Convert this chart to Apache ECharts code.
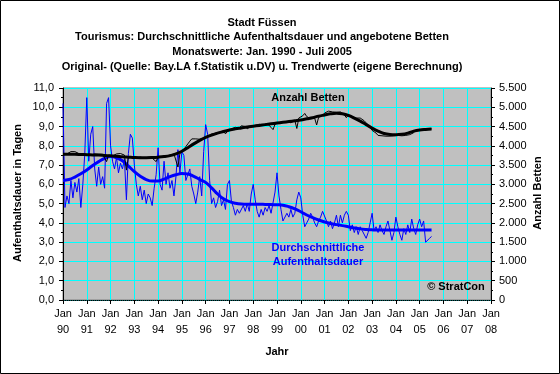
<!DOCTYPE html>
<html><head><meta charset="utf-8">
<script src="https://cdn.jsdelivr.net/npm/echarts/dist/echarts.min.js"></script>
<style>html,body{margin:0;padding:0;background:#fff}#c{width:560px;height:374px}</style>
</head><body><div id="c"></div>
<script>
// ---- data ----
const startYear = 1990;
const endYearAxis = 2008;
const titleLines = [
  'Stadt Füssen',
  'Tourismus: Durchschnittliche Aufenthaltsdauer und angebotene Betten',
  'Monatswerte: Jan. 1990 - Juli 2005',
  'Original- (Quelle: Bay.LA f.Statistik u.DV) u. Trendwerte (eigene Berechnung)'
];
// monthly, Jan 1990 .. Jul 2005 (average length of stay, days)
const stayOriginal = [
  10.2, 4.8, 5.4, 5.0, 6.2, 5.3, 6.1, 5.6, 6.3, 4.8, 6.0, 7.6,
  10.5, 7.2, 8.6, 9.0, 6.8, 5.9, 6.9, 6.0, 6.4, 5.8, 10.2, 10.5,
  8.0, 7.2, 6.8, 7.4, 6.6, 7.1, 6.8, 7.3, 5.2, 7.6, 8.6, 8.4,
  7.0, 6.0, 5.4, 5.9, 5.2, 5.7, 5.0, 5.5, 5.3, 4.9, 5.8, 6.5,
  7.9, 6.0, 5.7, 7.2, 6.0, 6.6, 5.8, 6.2, 5.4, 6.4, 7.8, 6.6,
  7.7, 7.5, 6.2, 6.1, 6.8, 5.9, 5.5, 5.0, 5.6, 6.4, 5.4, 7.7,
  9.1, 8.6, 6.2, 5.0, 5.3, 4.8, 5.1, 5.7, 4.9, 5.2, 4.7, 6.0,
  6.2, 5.1, 4.8, 4.4, 4.7, 4.5, 4.4, 4.9, 4.6, 5.0, 4.6, 5.5,
  6.0, 5.2, 4.6, 4.3, 4.7, 4.4, 4.8, 4.6, 4.9, 4.5, 4.4, 5.6,
  6.6, 5.4, 4.7, 4.1, 4.0, 4.5, 4.3, 4.7, 4.3, 4.5, 5.2, 5.6,
  5.3, 4.4, 3.8, 4.0, 4.2, 4.5, 4.3, 4.0, 3.8, 4.1, 4.3, 4.6,
  4.7, 4.1, 3.8, 4.1, 3.7, 4.0, 4.4, 3.8, 4.4, 4.0, 4.4, 4.6,
  4.4, 3.6, 3.9, 3.5, 3.8, 3.4, 3.8, 3.6, 3.7, 3.2, 3.5, 4.0,
  4.5, 3.6, 3.8, 3.5, 3.9, 3.6, 3.4, 3.8, 4.1, 3.6, 3.1, 3.5,
  4.3, 3.8, 3.4, 3.1, 3.7, 3.4, 3.9, 3.5, 4.2, 3.7, 3.4, 3.9,
  4.2, 3.8, 4.1, 3.0, 3.1, 3.2, 3.3
];
// monthly, Jan 1990 .. Jul 2005 (beds offered)
const bedsOriginal = [
  3760, 3770, 3790, 3830, 3850, 3850, 3850, 3840, 3800, 3780, 3790, 3770,
  3780, 3770, 3760, 3780, 3790, 3800, 3780, 3770, 3780, 3760, 3590, 3760,
  3750, 3740, 3760, 3790, 3800, 3800, 3790, 3760, 3370, 3720, 3700, 3700,
  3690, 3680, 3700, 3710, 3690, 3680, 3690, 3700, 3690, 3680, 3700, 3590,
  3710, 3700, 3720, 3720, 3730, 3740, 3760, 3780, 3790, 3800, 3450, 3800,
  3840, 3900, 3980, 4050, 4120, 4180, 4200, 4180, 4150, 4170, 4160, 4200,
  4180, 4250, 4280, 4300, 4350, 4330, 4360, 4340, 4300, 4380, 4310, 4380,
  4420, 4440, 4460, 4480, 4470, 4460, 4520, 4480, 4500, 4440, 4490, 4520,
  4500, 4530, 4540, 4560, 4550, 4540, 4560, 4580, 4570, 4480, 4420, 4560,
  4590, 4600, 4620, 4630, 4610, 4620, 4640, 4600, 4640, 4660, 4450, 4720,
  4700, 4780, 4840, 4760, 4720, 4700, 4710, 4720, 4540, 4740, 4760, 4780,
  4850, 4890, 4900, 4900, 4880, 4870, 4870, 4860, 4880, 4850, 4800, 4730,
  4800, 4790, 4760, 4740, 4720, 4760, 4720, 4700, 4650, 4600, 4540, 4480,
  4400, 4380, 4330, 4270, 4250, 4260, 4240, 4250, 4240, 4250, 4250, 4260,
  4260, 4270, 4250, 4260, 4280, 4270, 4300, 4290, 4310, 4340, 4400, 4430,
  4420, 4420, 4430, 4430, 4440, 4440, 4440
];
// trend values, quarterly (Jan, Apr, Jul, Oct), Jan 1990 .. Jul 2005
const trendStepMonths = 3;
const stayTrend = [
  6.20, 6.25, 6.38, 6.55, 6.75, 6.98, 7.18, 7.35, 7.44, 7.38, 7.22, 6.95,
  6.66, 6.42, 6.25, 6.17, 6.17, 6.27, 6.40, 6.50, 6.56, 6.54, 6.42, 6.25,
  6.10, 5.82, 5.50, 5.25, 5.10, 5.02, 4.98, 4.97, 4.97, 4.97, 4.96, 4.95,
  4.94, 4.92, 4.84, 4.73, 4.58, 4.41, 4.27, 4.15, 4.05, 3.97, 3.91, 3.86,
  3.80, 3.74, 3.69, 3.66, 3.64, 3.63, 3.63, 3.63, 3.63, 3.63, 3.63, 3.63,
  3.63, 3.63, 3.63
];
const bedsTrend = [
  3780, 3780, 3780, 3775, 3770, 3765, 3760, 3750, 3740, 3730, 3715, 3705,
  3695, 3690, 3690, 3695, 3705, 3720, 3745, 3790, 3860, 3950, 4050, 4140,
  4220, 4280, 4330, 4370, 4410, 4440, 4465, 4490, 4510, 4530, 4550, 4570,
  4590, 4610, 4630, 4650, 4670, 4700, 4730, 4770, 4800, 4830, 4845, 4830,
  4790, 4720, 4640, 4550, 4460, 4380, 4320, 4295, 4290, 4300, 4330, 4380,
  4410, 4425, 4435
];
const leftTicks = {min: 0, max: 11, interval: 1};
const rightTicks = {min: 0, max: 5500, interval: 500};

// ---- chart ----
const monthly = arr => arr.map((v, i) => [i, v]);
const stepped = (arr, step) => arr.map((v, i) => [i * step, v]);
const fontFam = '"Liberation Sans", Arial, sans-serif';
const fmtLeft = v => v.toFixed(1).replace('.', ',');
const fmtRight = v => v >= 1000 ? Math.floor(v / 1000) + '.' + String(v % 1000).padStart(3, '0') : String(v);

const chart = echarts.init(document.getElementById('c'), null, {renderer: 'canvas'});
const titleGraphics = titleLines.map((t, i) => ({
  type: 'text', left: null, x: 262, y: 22.7 + i * 14.7,
  style: {text: t, font: 'bold 11px ' + fontFam, fill: '#000', textAlign: 'center', textVerticalAlign: 'middle'}
}));
chart.setOption({
  animation: false,
  backgroundColor: '#fff',
  grid: {left: 63, right: 69, top: 88, bottom: 74, show: true, backgroundColor: '#c0c0c0', borderColor: '#808080', borderWidth: 1},
  xAxis: {
    type: 'value', min: 0, max: (endYearAxis - startYear) * 12, interval: 12,
    axisLine: {show: true, onZero: false, lineStyle: {color: '#000', type: 'dotted', width: 1}},
    axisTick: {show: true, length: 4, lineStyle: {color: '#000'}},
    axisLabel: {
      margin: 6, color: '#000', fontFamily: fontFam, fontSize: 11, lineHeight: 16,
      formatter: v => 'Jan\n' + String((startYear + v / 12) % 100).padStart(2, '0')
    },
    splitLine: {show: true, lineStyle: {color: '#00ffff', width: 1}}
  },
  yAxis: [
    {
      type: 'value', min: leftTicks.min, max: leftTicks.max, interval: leftTicks.interval,
      axisLine: {show: true, lineStyle: {color: '#000'}},
      axisTick: {show: true, length: 4, lineStyle: {color: '#000'}},
      minorTick: {show: true, splitNumber: 2, length: 2, lineStyle: {color: '#000'}},
      axisLabel: {margin: 9, color: '#000', fontFamily: fontFam, fontSize: 11, formatter: fmtLeft},
      splitLine: {show: true, lineStyle: {color: '#00ffff', width: 1}}
    },
    {
      type: 'value', position: 'right', min: rightTicks.min, max: rightTicks.max, interval: rightTicks.interval,
      axisLine: {show: true, lineStyle: {color: '#000'}},
      axisTick: {show: true, length: 4, lineStyle: {color: '#000'}},
      minorTick: {show: true, splitNumber: 2, length: 2, lineStyle: {color: '#000'}},
      axisLabel: {margin: 8, color: '#000', fontFamily: fontFam, fontSize: 11, formatter: fmtRight},
      splitLine: {show: false}
    }
  ],
  series: [
    {type: 'line', name: 'Aufenthaltsdauer Original', yAxisIndex: 0, data: monthly(stayOriginal), showSymbol: false, lineStyle: {color: '#0000ff', width: 1}, z: 2},
    {type: 'line', name: 'Aufenthaltsdauer Trend', yAxisIndex: 0, data: stepped(stayTrend, trendStepMonths), smooth: 0.4, showSymbol: false, lineStyle: {color: '#0000ff', width: 3}, z: 3},
    {type: 'line', name: 'Betten Original', yAxisIndex: 1, data: monthly(bedsOriginal), showSymbol: false, lineStyle: {color: '#000', width: 1}, z: 4},
    {type: 'line', name: 'Betten Trend', yAxisIndex: 1, data: stepped(bedsTrend, trendStepMonths), smooth: 0.4, showSymbol: false, lineStyle: {color: '#000', width: 3}, z: 5}
  ],
  graphic: [
    {type: 'rect', shape: {x: 0.5, y: 0.5, width: 559, height: 373}, style: {fill: 'none', stroke: '#000', lineWidth: 1}, z: 100},
    ...titleGraphics,
    {type: 'text', x: 308, y: 98, style: {text: 'Anzahl Betten', font: 'bold 11px ' + fontFam, fill: '#000', textAlign: 'center', textVerticalAlign: 'middle'}, z: 50},
    {type: 'text', x: 318, y: 247.5, style: {text: 'Durchschnittliche', font: 'bold 11px ' + fontFam, fill: '#0000ff', textAlign: 'center', textVerticalAlign: 'middle'}, z: 50},
    {type: 'text', x: 318, y: 262, style: {text: 'Aufenthaltsdauer', font: 'bold 11px ' + fontFam, fill: '#0000ff', textAlign: 'center', textVerticalAlign: 'middle'}, z: 50},
    {type: 'text', x: 456, y: 287, style: {text: '© StratCon', font: 'bold 11px ' + fontFam, fill: '#000', textAlign: 'center', textVerticalAlign: 'middle'}, z: 50},
    {type: 'text', x: 277, y: 352, style: {text: 'Jahr', font: 'bold 11px ' + fontFam, fill: '#000', textAlign: 'center', textVerticalAlign: 'middle'}, z: 50},
    {type: 'text', x: 18, y: 193, rotation: Math.PI / 2, style: {text: 'Aufenthaltsdauer in Tagen', font: 'bold 11px ' + fontFam, fill: '#000', textAlign: 'center', textVerticalAlign: 'middle'}, z: 50},
    {type: 'text', x: 538, y: 193, rotation: Math.PI / 2, style: {text: 'Anzahl Betten', font: 'bold 11px ' + fontFam, fill: '#000', textAlign: 'center', textVerticalAlign: 'middle'}, z: 50}
  ]
});
</script>
</body></html>
